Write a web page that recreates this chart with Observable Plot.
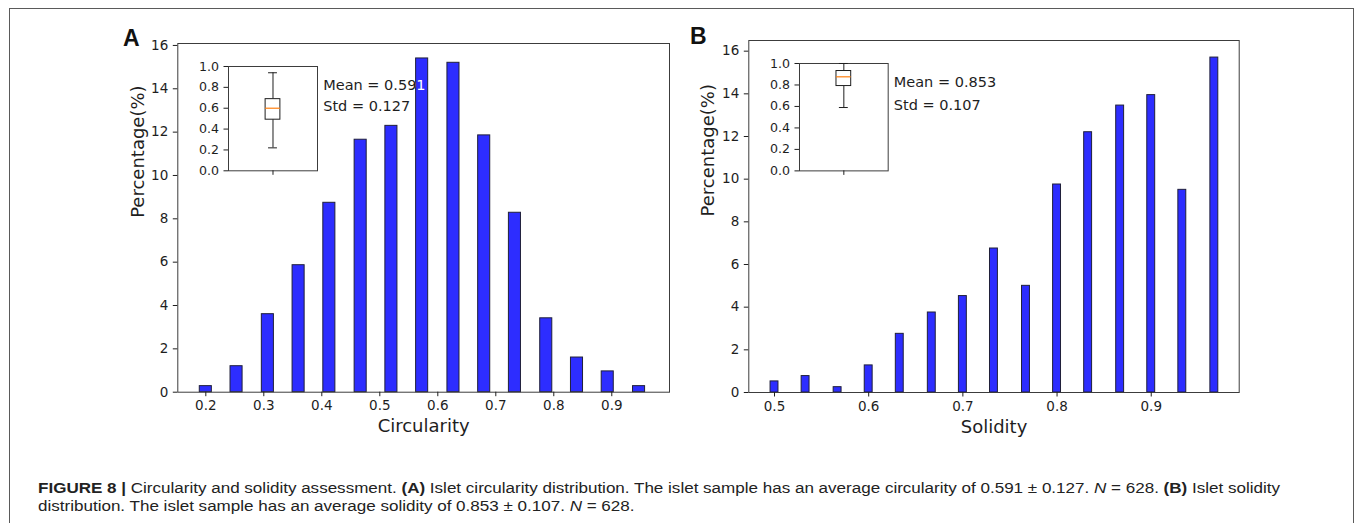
<!DOCTYPE html>
<html>
<head>
<meta charset="utf-8">
<script src="https://cdn.jsdelivr.net/npm/d3@7"></script>
<script src="https://cdn.jsdelivr.net/npm/@observablehq/plot@0.6"></script>
<style>
html, body { margin: 0; padding: 0; background: #fff; }
body { width: 1355px; height: 523px; overflow: hidden; position: relative; }
#border { position: absolute; left: 9px; top: 8px; width: 1345px; height: 700px; border: 1px solid #5a5a5a; box-sizing: border-box; }
.abs { position: absolute; }
.letter { position: absolute; font-family: "Liberation Sans", Arial, sans-serif; font-weight: bold; font-size: 23px; line-height: 1; color: #111; }
.cap { position: absolute; left: 38px; font-family: "Liberation Sans", Arial, sans-serif; font-size: 14px; line-height: 14px; white-space: nowrap; transform-origin: 0 0; color: #222; }
</style>
</head>
<body>
<div id="border"></div>
<div id="panelA" class="abs" style="left:0px;top:0px"></div>
<div id="panelB" class="abs" style="left:680px;top:0px"></div>
<div id="insetA" class="abs" style="left:187.7px;top:55.7px"></div>
<div id="insetB" class="abs" style="left:759px;top:53.3px"></div>
<div class="letter" style="left:123px;top:27px">A</div>
<div class="letter" style="left:690px;top:25px">B</div>
<div id="cap1" class="cap" style="top:481px"><b>FIGURE 8 |</b> Circularity and solidity assessment. <b>(A)</b> Islet circularity distribution. The islet sample has an average circularity of 0.591 ± 0.127. <i>N</i> = 628. <b>(B)</b> Islet solidity</div>
<div id="cap2" class="cap" style="top:499px">distribution. The islet sample has an average solidity of 0.853 ± 0.107. <i>N</i> = 628.</div>
<script>
// ---- data ----
const circularityBins = [0.200, 0.253, 0.307, 0.360, 0.413, 0.467, 0.520, 0.573, 0.627, 0.680, 0.733, 0.787, 0.840, 0.893, 0.947];
const circularityPct  = [0.28, 1.20, 3.60, 5.86, 8.74, 11.65, 12.29, 15.40, 15.20, 11.85, 8.28, 3.41, 1.60, 0.96, 0.28];
const solidityBins = [0.500, 0.533, 0.567, 0.600, 0.633, 0.667, 0.700, 0.733, 0.767, 0.800, 0.833, 0.867, 0.900, 0.933, 0.967];
const solidityPct  = [0.52, 0.77, 0.25, 1.27, 2.75, 3.75, 4.52, 6.75, 5.00, 9.75, 12.20, 13.45, 13.94, 9.50, 15.70];
// box plot: [lower whisker, q1, median, q3, upper whisker]
const circularityBox = [0.22, 0.49, 0.60, 0.687, 0.94];
const solidityBox    = [0.59, 0.79, 0.876, 0.93, 1.00];
const circularityStats = ["Mean = 0.591", "Std = 0.127"];
const solidityStats    = ["Mean = 0.853", "Std = 0.107"];
const yTicks = [0, 2, 4, 6, 8, 10, 12, 14, 16];
const circularityTicks = [0.2, 0.3, 0.4, 0.5, 0.6, 0.7, 0.8, 0.9];
const solidityTicks = [0.5, 0.6, 0.7, 0.8, 0.9];
const insetTicks = [0.0, 0.2, 0.4, 0.6, 0.8, 1.0];

const BAR_FILL = "#2d2dff", BAR_STROKE = "#20203a", INK = "#1e1e1e";

function histPanel(o) {
  const data = o.bins.map((c, i) => ({c, p: o.pct[i]}));
  const statText = [o.stats.join("\n")];
  const statOpts = {frameAnchor: "top-left", textAnchor: "start", lineAnchor: "top",
    dx: o.statDx, dy: o.statDy, fontSize: 14.5, lineHeight: o.statLH};
  return Plot.plot({
    width: o.width, height: 440,
    marginLeft: o.ml, marginRight: o.mr, marginTop: o.mt, marginBottom: o.mb,
    style: {fontFamily: "DejaVu Sans", fontSize: "13.5px", color: INK, background: "transparent", overflow: "visible"},
    x: {domain: o.xDomain, label: null},
    y: {domain: o.yDomain, label: null},
    marks: [
      Plot.text(statText, {...statOpts, fill: INK}),
      Plot.rectY(data, {x1: d => d.c - o.half, x2: d => d.c + o.half, y1: 0, y2: "p",
        fill: BAR_FILL, stroke: BAR_STROKE, strokeWidth: 1}),
      Plot.text(statText, {...statOpts, fill: "white"}),
      Plot.frame({stroke: "#3c3c3c", strokeWidth: 1}),
      Plot.axisX({ticks: o.xTicks, tickFormat: d3.format(".1f"), tickSize: 4.5, tickPadding: 4, label: null}),
      Plot.axisY({ticks: yTicks, tickFormat: d3.format("d"), tickSize: 4.5, tickPadding: 5, label: null}),
      Plot.text([o.xLabel], {frameAnchor: "bottom", lineAnchor: "top", dy: o.xLabDy, fontSize: 18, fill: INK}),
      Plot.text(["Percentage(%)"], {frameAnchor: "left", rotate: -90, lineAnchor: "middle", dx: o.yLabDx, fontSize: 18, fill: INK})
    ]
  });
}

// the stats text sits behind the bars in the reference; where a bar covers it the glyphs show white
function clipWhiteTextToBars(svg, id) {
  const ns = "http://www.w3.org/2000/svg";
  const rectG = svg.querySelector('g[aria-label="rect"]');
  const white = svg.querySelectorAll('g[aria-label="text"]')[1];
  if (!rectG || !white) return;
  const cp = document.createElementNS(ns, "clipPath");
  cp.setAttribute("id", id);
  const gt = rectG.getAttribute("transform") || "";
  rectG.querySelectorAll("rect").forEach(r => {
    const c = r.cloneNode(false);
    const t = (gt + " " + (r.getAttribute("transform") || "")).trim();
    if (t) c.setAttribute("transform", t);
    cp.appendChild(c);
  });
  const defs = document.createElementNS(ns, "defs");
  defs.appendChild(cp);
  svg.insertBefore(defs, svg.firstChild);
  const wrap = document.createElementNS(ns, "g");
  wrap.setAttribute("clip-path", `url(#${id})`);
  white.parentNode.insertBefore(wrap, white);
  wrap.appendChild(white);
}

function insetPanel(box, fw, fh) {
  const s = [box];
  const BW = 0.083, CW = 0.05;
  return Plot.plot({
    width: 40 + fw + 4, height: 10 + fh + 16,
    marginLeft: 40, marginRight: 4, marginTop: 10, marginBottom: 16,
    style: {fontFamily: "DejaVu Sans", fontSize: "12.6px", color: INK, background: "transparent", overflow: "visible"},
    x: {domain: [0.5, 1.5], label: null},
    y: {domain: [0, 1], label: null},
    marks: [
      Plot.frame({fill: "white", stroke: "#3c3c3c"}),
      Plot.ruleX(s, {x: () => 1, y1: d => d[0], y2: d => d[1], stroke: INK}),
      Plot.ruleX(s, {x: () => 1, y1: d => d[3], y2: d => d[4], stroke: INK}),
      Plot.ruleY(s, {y: d => d[0], x1: () => 1 - CW, x2: () => 1 + CW, stroke: INK}),
      Plot.ruleY(s, {y: d => d[4], x1: () => 1 - CW, x2: () => 1 + CW, stroke: INK}),
      Plot.rect(s, {x1: () => 1 - BW, x2: () => 1 + BW, y1: d => d[1], y2: d => d[3], fill: "white", stroke: INK}),
      Plot.ruleY(s, {y: d => d[2], x1: () => 1 - BW, x2: () => 1 + BW, stroke: "#ff7f0e", strokeWidth: 1.2}),
      Plot.axisY({ticks: insetTicks, tickFormat: d3.format(".1f"), tickSize: 4.5, tickPadding: 5, label: null}),
      Plot.axisX({ticks: [1], tickFormat: () => "", tickSize: 4.5, label: null})
    ]
  });
}

const svgA = histPanel({
  bins: circularityBins, pct: circularityPct, stats: circularityStats, xTicks: circularityTicks,
  xLabel: "Circularity", width: 680, ml: 177.3, mr: 11, mt: 43, mb: 48.3,
  xDomain: [0.1517, 0.9995], yDomain: [0, 16.09], half: 0.0104,
  statDx: 145.4, statDy: 31.7, statLH: 1.43, xLabDy: 27.2, yLabDx: -39.8
});
clipWhiteTextToBars(svgA, "clipBarsA");
document.getElementById("panelA").append(svgA);

const svgB = histPanel({
  bins: solidityBins, pct: solidityPct, stats: solidityStats, xTicks: solidityTicks,
  xLabel: "Solidity", width: 675, ml: 68.3, mr: 116.3, mt: 40, mb: 48,
  xDomain: [0.4727, 0.9934], yDomain: [0, 16.5], half: 0.0042,
  statDx: 145, statDy: 30.7, statLH: 1.55, xLabDy: 27.5, yLabDx: -40.8
});
clipWhiteTextToBars(svgB, "clipBarsB");
document.getElementById("panelB").append(svgB);

document.getElementById("insetA").append(insetPanel(circularityBox, 89, 104.3));
document.getElementById("insetB").append(insetPanel(solidityBox, 88.7, 107.4));

// fit caption lines (condensed justified type in the reference)
const c1 = document.getElementById("cap1"), c2 = document.getElementById("cap2");
const sc = 1242 / c1.getBoundingClientRect().width;
c1.style.transform = `scaleX(${sc})`;
c2.style.transform = `scaleX(${sc})`;
</script>
</body>
</html>
